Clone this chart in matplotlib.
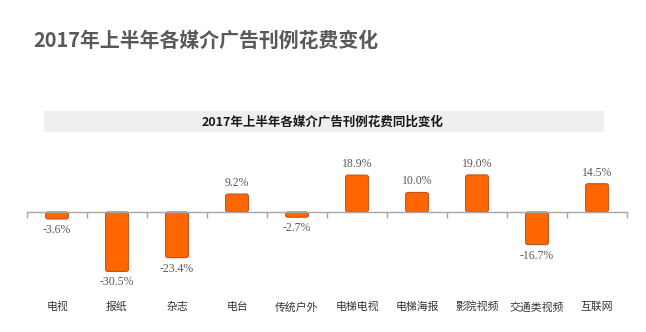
import matplotlib.pyplot as plt
from matplotlib.patches import FancyBboxPatch
import matplotlib.transforms as mtransforms

plt.rcParams['font.family'] = ['Noto Sans CJK SC', 'DejaVu Sans']

categories = ['电视', '报纸', '杂志', '电台', '传统户外',
              '电梯电视', '电梯海报', '影院视频', '交通类视频', '互联网']
changes = [-3.6, -30.5, -23.4, 9.2, -2.7, 18.9, 10.0, 19.0, -16.7, 14.5]

fig = plt.figure(figsize=(6.46, 3.32), dpi=100)
fig.patch.set_facecolor('white')

# page heading
fig.text(33 / 646, 1 - 40 / 332, '2017年上半年各媒介广告刊例花费变化',
         fontsize=14.3, fontweight='bold', color='#595959', va='center', ha='left')

# grey banner with the chart title
banner = plt.Rectangle((44 / 646, 1 - 132 / 332), 560 / 646, 21 / 332,
                       transform=fig.transFigure, facecolor='#EFEFEF',
                       edgecolor='none')
fig.patches.append(banner)
fig.text(323 / 646, 1 - 122 / 332, '2017年上半年各媒介广告刊例花费同比变化',
         fontsize=9, fontweight='bold', color='#1a1a1a', va='center', ha='center')

ax = fig.add_axes([27 / 646, 1 - 290 / 332, 600 / 646, 150 / 332])
ax.set_xlim(-0.5, len(categories) - 0.5)
ax.set_ylim(-40, 36.9)
for s in ['top', 'right', 'left']:
    ax.spines[s].set_visible(False)
ax.spines['bottom'].set_position(('data', 0))
ax.spines['bottom'].set_color('#A6A6A6')
ax.spines['bottom'].set_linewidth(1.0)
ax.set_yticks([])
ax.set_xticks([i - 0.5 for i in range(len(categories) + 1)])
ax.set_xticklabels([])
ax.tick_params(axis='x', direction='out', length=4, color='#A6A6A6', width=1.0)
ax.patch.set_alpha(0)

bars = ax.bar(range(len(categories)), changes, width=0.38)
for b in bars:
    x, y = b.get_x(), b.get_y()
    w, h = b.get_width(), b.get_height()
    if h < 0:
        y, h = y + h, -h
    b.remove()
    ax.add_patch(FancyBboxPatch((x, y), w, h,
                                boxstyle='round,pad=0,rounding_size=0.04',
                                mutation_aspect=26,
                                facecolor='#FF6600', edgecolor='#C4551A',
                                linewidth=0.8))

for i, v in enumerate(changes):
    off = 5 if v >= 0 else -5
    ax.annotate(f'{v:.1f}%', (i, v), xytext=(0, off), textcoords='offset pixels',
                ha='center', va='bottom' if v >= 0 else 'top',
                fontsize=8.5, color='#595959', family='Liberation Serif')

trans = mtransforms.blended_transform_factory(ax.transData, fig.transFigure)
for i, c in enumerate(categories):
    ax.text(i, 1 - 307 / 332, c, transform=trans, ha='center', va='center',
            fontsize=7.8, color='#333333')

fig.savefig('out.png', dpi=100)
